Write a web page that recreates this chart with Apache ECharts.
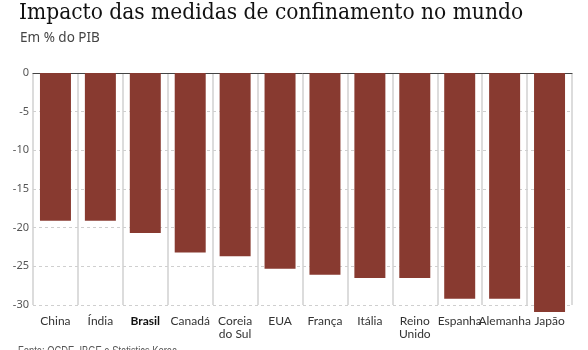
<!DOCTYPE html>
<html>
<head>
<meta charset="utf-8">
<script src="https://cdn.jsdelivr.net/npm/echarts@6/dist/echarts.min.js"></script>
<style>
  html, body { margin: 0; padding: 0; background: #fff; }
  #chart { width: 588px; height: 350px; }
</style>
</head>
<body>
<div id="chart"></div>
<script>
// países e queda do PIB (% do PIB)
const countries = ['China', 'Índia', 'Brasil', 'Canadá', 'Coreia\ndo Sul', 'EUA', 'França', 'Itália', 'Reino\nUnido', 'Espanha', 'Alemanha', 'Japão'];
const impact = [-19.1, -19.1, -20.7, -23.2, -23.7, -25.3, -26.1, -26.5, -26.5, -29.2, -29.2, -30.9];
const yTicks = [0, -5, -10, -15, -20, -25, -30];

const barColor = '#883a30';
const labelFont = "'Liberation Sans Narrow', Lato, sans-serif";

const myChart = echarts.init(document.getElementById('chart'));
myChart.setOption({
  backgroundColor: '#fff',
  animation: false,
  graphic: [
    {
      type: 'text', left: 19, top: 2,
      style: { text: 'Impacto das medidas de confinamento no mundo', fill: '#111', font: "22.5px 'DejaVu Serif Condensed', 'Liberation Serif', serif" }
    },
    {
      type: 'text', left: 20, top: 31,
      style: { text: 'Em % do PIB', fill: '#444', font: "13.5px 'Noto Sans', sans-serif" }
    },
    {
      type: 'text', left: 18, top: 346, scaleX: 0.78,
      style: { text: 'Fonte: OCDE, IBGE e Statistics Korea', fill: '#555', font: "12px 'Liberation Sans', sans-serif" }
    }
  ],
  grid: { left: 33, right: 16, top: 73, bottom: 45 },
  xAxis: [
    {
      type: 'category',
      data: countries,
      position: 'bottom',
      axisLine: { show: false, onZero: false },
      axisTick: { show: false },
      splitLine: { show: true, lineStyle: { color: '#d0d0d0', width: 1.5 } },
      axisLabel: {
        margin: 10,
        color: '#333',
        fontFamily: labelFont,
        fontSize: 12,
        lineHeight: 13,
        interval: 0,
        formatter: function (v) { return v === 'Brasil' ? '{b|' + v + '}' : v; },
        rich: { b: { fontWeight: 'bold', color: '#111', fontFamily: labelFont, fontSize: 12 } }
      }
    },
    {
      type: 'category',
      data: countries,
      position: 'top',
      axisLine: { show: true, lineStyle: { color: '#444', width: 1 } },
      axisTick: { show: false },
      axisLabel: { show: false }
    }
  ],
  yAxis: {
    type: 'value',
    min: -30, max: 0, interval: 5,
    axisLine: { show: false },
    axisTick: { show: false },
    axisLabel: {
      margin: 4, color: '#555', fontSize: 11, fontFamily: "'Noto Sans', sans-serif",
      formatter: function (v) { return yTicks.indexOf(v) >= 0 ? String(v) : ''; }
    },
    splitLine: { lineStyle: { color: '#cfcfcf', type: [3, 3] } }
  },
  series: [
    {
      type: 'bar',
      data: impact,
      barWidth: '69%',
      clip: false,
      itemStyle: { color: barColor },
      z: 3
    }
  ]
});
</script>
</body>
</html>
